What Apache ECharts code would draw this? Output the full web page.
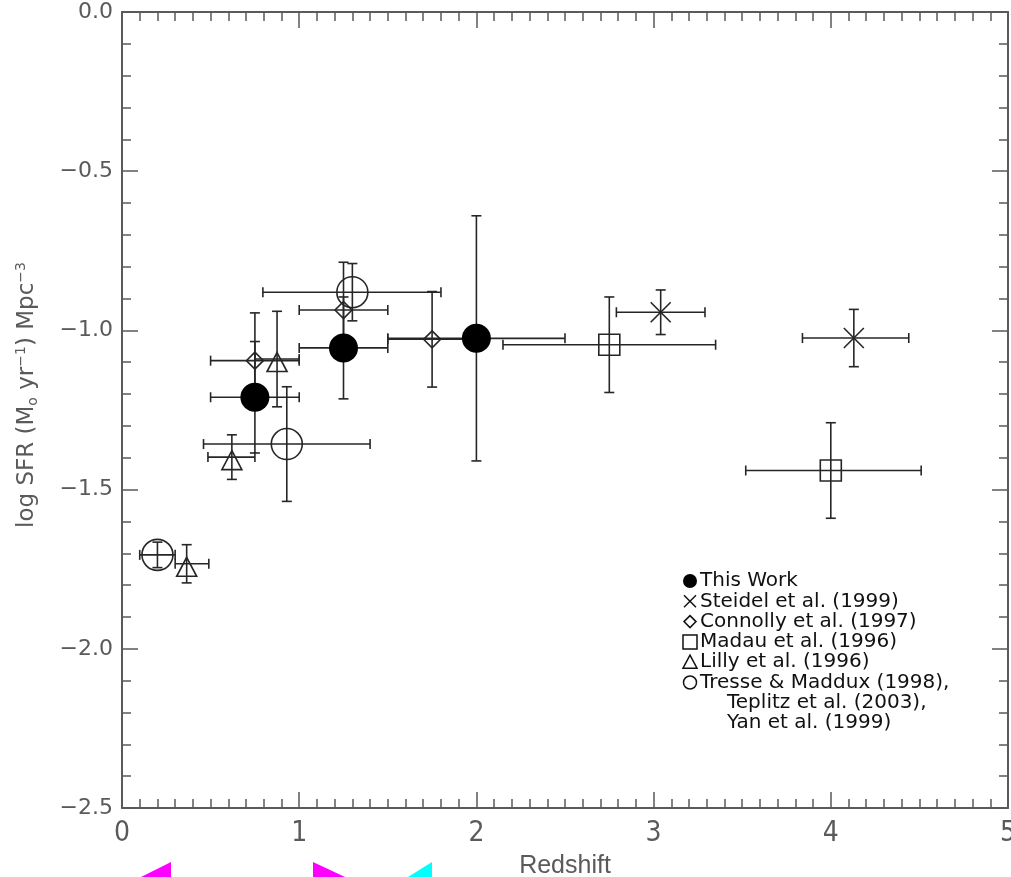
<!DOCTYPE html>
<html>
<head>
    <meta charset="utf-8">
    <title>log SFR vs Redshift</title>
    <script src="https://cdn.jsdelivr.net/npm/echarts@6/dist/echarts.min.js"></script>
    <style>
        html, body { margin: 0; padding: 0; background: #fff; }
        #main { width: 1011px; height: 877px; }
    </style>
</head>
<body>
<div id="main"></div>
<script>
    // values: centre, x range, +/- y error
    var thisWorkX = [0.75, 1.25, 2.0];
    var thisWorkY = [-1.21, -1.055, -1.025];
    var thisWorkXLo = [0.5, 1.0, 1.5];
    var thisWorkXHi = [1.0, 1.5, 2.5];
    var thisWorkYErr = [0.175, 0.16, 0.385];

    var steidelX = [3.04, 4.13];
    var steidelY = [-0.943, -1.024];
    var steidelXLo = [2.79, 3.84];
    var steidelXHi = [3.29, 4.44];
    var steidelYErr = [0.07, 0.09];

    var connollyX = [0.75, 1.25, 1.75];
    var connollyY = [-1.095, -0.936, -1.028];
    var connollyXLo = [0.5, 1.0, 1.5];
    var connollyXHi = [1.0, 1.5, 2.0];
    var connollyYErr = [0.15, 0.15, 0.15];

    var madauX = [2.75, 4.0];
    var madauY = [-1.045, -1.44];
    var madauXLo = [2.15, 3.52];
    var madauXHi = [3.35, 4.51];
    var madauYErr = [0.15, 0.15];

    var lillyX = [0.365, 0.62, 0.875];
    var lillyY = [-1.733, -1.398, -1.09];
    var lillyXLo = [0.3, 0.485, 0.75];
    var lillyXHi = [0.49, 0.75, 1.0];
    var lillyYErr = [0.06, 0.07, 0.15];

    var tresseX = [0.2, 0.93, 1.3];
    var tresseY = [-1.705, -1.357, -0.88];
    var tresseXLo = [0.1, 0.46, 0.795];
    var tresseXHi = [0.3, 1.4, 1.8];
    var tresseYErr = [0.04, 0.18, 0.09];

    var xTicks = ['0', '1', '2', '3', '4', '5'];
    var legendLabels = ['This Work', 'Steidel et al. (1999)', 'Connolly et al. (1997)',
        'Madau et al. (1996)', 'Lilly et al. (1996)', 'Tresse & Maddux (1998),'];
    var legendExtra = ['Teplitz et al. (2003),', 'Yan et al. (1999)'];

    var ink = '#262626';
    var axisGray = '#5a5a5a';

    function rows(x, y, lo, hi, err) {
        var out = [];
        for (var i = 0; i < x.length; i++) {
            out.push([x[i], y[i], lo[i], hi[i], y[i] - err[i], y[i] + err[i]]);
        }
        return out;
    }

    function pts(x, y) {
        var out = [];
        for (var i = 0; i < x.length; i++) {
            out.push([x[i], y[i]]);
        }
        return out;
    }

    function renderErr(params, api) {
        var c = 5;
        var l = api.coord([api.value(2), api.value(1)]);
        var r = api.coord([api.value(3), api.value(1)]);
        var b = api.coord([api.value(0), api.value(4)]);
        var t = api.coord([api.value(0), api.value(5)]);
        var style = {stroke: ink, lineWidth: 1.6};
        function ln(x1, y1, x2, y2) {
            return {type: 'line', shape: {x1: x1, y1: y1, x2: x2, y2: y2}, style: style};
        }
        return {
            type: 'group',
            children: [
                ln(l[0], l[1], r[0], r[1]),
                ln(l[0], l[1] - c, l[0], l[1] + c),
                ln(r[0], r[1] - c, r[0], r[1] + c),
                ln(t[0], t[1], b[0], b[1]),
                ln(t[0] - c, t[1], t[0] + c, t[1]),
                ln(b[0] - c, b[1], b[0] + c, b[1])
            ]
        };
    }

    function errSeries(data) {
        return {
            type: 'custom',
            renderItem: renderErr,
            encode: {x: [0, 2, 3], y: [1, 4, 5]},
            data: data,
            silent: true,
            z: 2
        };
    }

    var openStyle = {color: 'rgba(0,0,0,0)', borderColor: ink, borderWidth: 1.6, opacity: 1};

    var series = [
        errSeries(rows(thisWorkX, thisWorkY, thisWorkXLo, thisWorkXHi, thisWorkYErr)),
        errSeries(rows(steidelX, steidelY, steidelXLo, steidelXHi, steidelYErr)),
        errSeries(rows(connollyX, connollyY, connollyXLo, connollyXHi, connollyYErr)),
        errSeries(rows(madauX, madauY, madauXLo, madauXHi, madauYErr)),
        errSeries(rows(lillyX, lillyY, lillyXLo, lillyXHi, lillyYErr)),
        errSeries(rows(tresseX, tresseY, tresseXLo, tresseXHi, tresseYErr)),
        {
            type: 'scatter', name: 'Steidel', silent: true, z: 3,
            symbol: 'path://M0,0L10,10M10,0L0,10', symbolSize: 20,
            itemStyle: openStyle, data: pts(steidelX, steidelY)
        },
        {
            type: 'scatter', name: 'Connolly', silent: true, z: 3,
            symbol: 'diamond', symbolSize: 17,
            itemStyle: openStyle, data: pts(connollyX, connollyY)
        },
        {
            type: 'scatter', name: 'Madau', silent: true, z: 3,
            symbol: 'rect', symbolSize: 21,
            itemStyle: openStyle, data: pts(madauX, madauY)
        },
        {
            type: 'scatter', name: 'Lilly', silent: true, z: 3,
            symbol: 'triangle', symbolSize: [20, 19], symbolOffset: [0, 3],
            itemStyle: openStyle, data: pts(lillyX, lillyY)
        },
        {
            type: 'scatter', name: 'Tresse', silent: true, z: 3,
            symbol: 'circle', symbolSize: 31,
            itemStyle: openStyle, data: pts(tresseX, tresseY)
        },
        {
            type: 'scatter', name: 'This Work', silent: true, z: 4,
            symbol: 'circle', symbolSize: 29,
            itemStyle: {color: '#000', opacity: 1}, data: pts(thisWorkX, thisWorkY)
        }
    ];

    // legend drawn by hand, IDL style
    var lx = 690, ly = 581, gap = 20.3;
    var legendItems = [];
    var mk = {stroke: '#111', lineWidth: 1.5, fill: 'none'};
    legendItems.push({type: 'circle', shape: {cx: lx, cy: ly, r: 7}, style: {fill: '#000'}});
    legendItems.push({type: 'polyline', shape: {points: [[lx - 6, ly + gap - 6], [lx + 6, ly + gap + 6]]}, style: mk});
    legendItems.push({type: 'polyline', shape: {points: [[lx + 6, ly + gap - 6], [lx - 6, ly + gap + 6]]}, style: mk});
    legendItems.push({type: 'polygon', shape: {points: [[lx, ly + 2 * gap - 6], [lx + 6, ly + 2 * gap], [lx, ly + 2 * gap + 6], [lx - 6, ly + 2 * gap]]}, style: mk});
    legendItems.push({type: 'rect', shape: {x: lx - 7, y: ly + 3 * gap - 7, width: 14, height: 14}, style: mk});
    legendItems.push({type: 'polygon', shape: {points: [[lx, ly + 4 * gap - 7], [lx + 7, ly + 4 * gap + 6], [lx - 7, ly + 4 * gap + 6]]}, style: mk});
    legendItems.push({type: 'circle', shape: {cx: lx, cy: ly + 5 * gap, r: 6.5}, style: mk});
    for (var i = 0; i < legendLabels.length; i++) {
        legendItems.push({
            type: 'text', x: 700, y: ly + i * gap,
            style: {text: legendLabels[i], font: '20px "DejaVu Sans"', fill: '#111', verticalAlign: 'middle'}
        });
    }
    for (var j = 0; j < legendExtra.length; j++) {
        legendItems.push({
            type: 'text', x: 727, y: ly + (legendLabels.length + j) * gap,
            style: {text: legendExtra[j], font: '20px "DejaVu Sans"', fill: '#111', verticalAlign: 'middle'}
        });
    }
    // coloured scan marks along the bottom edge of the original
    legendItems.push({type: 'polygon', shape: {points: [[141, 877], [171, 862], [171, 877]]}, style: {fill: '#ff00ff'}});
    legendItems.push({type: 'polygon', shape: {points: [[313, 862], [345, 877], [313, 877]]}, style: {fill: '#ff00ff'}});
    legendItems.push({type: 'polygon', shape: {points: [[432, 862], [432, 877], [408, 877]]}, style: {fill: '#00ffff'}});

    var tickCommon = {
        axisLine: {show: true, onZero: false, lineStyle: {color: axisGray, width: 2}},
        axisTick: {show: true, inside: true, length: 16, lineStyle: {color: axisGray, width: 1.5}},
        minorTick: {show: true, length: 9, lineStyle: {color: axisGray, width: 1.5}},
        splitLine: {show: false},
        minorSplitLine: {show: false}
    };

    function xAx(pos, labels) {
        return Object.assign({
            type: 'value', position: pos, min: 0, max: 5, interval: 1,
            axisLabel: labels ? {
                show: true, margin: 12, color: axisGray,
                fontFamily: '"Liberation Sans Narrow", "DejaVu Sans Condensed", "Liberation Sans"', fontSize: 28,
                formatter: function (v) { return xTicks[Math.round(v)]; }
            } : {show: false}
        }, tickCommon, {minorTick: Object.assign({}, tickCommon.minorTick, {splitNumber: 10})});
    }

    function yAx(pos, labels) {
        return Object.assign({
            type: 'value', position: pos, min: -2.5, max: 0, interval: 0.5,
            axisLabel: labels ? {
                show: true, margin: 9, color: axisGray,
                fontFamily: '"DejaVu Sans"', fontSize: 22,
                formatter: function (v) {
                    return v === 0 ? '0.0' : '\u2212' + Math.abs(v).toFixed(1);
                }
            } : {show: false}
        }, tickCommon, {minorTick: Object.assign({}, tickCommon.minorTick, {splitNumber: 5})});
    }

    var xBottom = xAx('bottom', true);
    xBottom.name = 'Redshift';
    xBottom.nameLocation = 'middle';
    xBottom.nameGap = 46;
    xBottom.nameTextStyle = {color: axisGray, fontFamily: '"Liberation Sans"', fontSize: 25};

    var yLeft = yAx('left', true);
    yLeft.name = 'log SFR (M{sub|o} yr{sup|\u22121}) Mpc{sup|\u22123}';
    yLeft.nameLocation = 'middle';
    yLeft.nameGap = 82;
    yLeft.nameTextStyle = {
        color: axisGray, fontFamily: '"DejaVu Sans"', fontSize: 23,
        padding: [0, 0, 0, 30],
        rich: {
            sub: {fontSize: 14, color: axisGray, fontFamily: '"DejaVu Sans"', padding: [12, 0, 0, 0]},
            sup: {fontSize: 14, color: axisGray, fontFamily: '"DejaVu Sans"', padding: [0, 0, 12, 0]}
        }
    };

    var chart = echarts.init(document.getElementById('main'), null, {renderer: 'canvas'});
    chart.setOption({
        backgroundColor: '#fff',
        animation: false,
        grid: {left: 122, right: 3, top: 12, bottom: 69, containLabel: false, outerBoundsMode: 'none'},
        xAxis: [xBottom, xAx('top', false)],
        yAxis: [yLeft, yAx('right', false)],
        graphic: legendItems,
        series: series
    });
</script>
</body>
</html>
